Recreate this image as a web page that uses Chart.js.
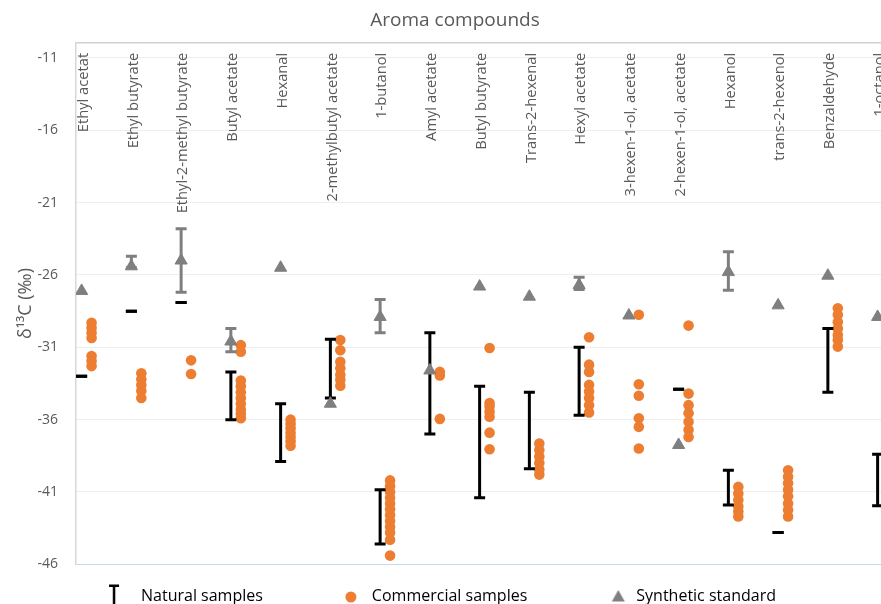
<!DOCTYPE html>
<html>
<head>
<meta charset="utf-8">
<script src="https://cdn.jsdelivr.net/npm/chart.js@4.4.1/dist/chart.umd.min.js"></script>
<style>
html,body{margin:0;padding:0;overflow:hidden;background:#fff;width:881px;height:604px}
#wrap{position:absolute;left:0;top:0;width:910px;height:614px}
</style>
</head>
<body>
<div id="wrap"><canvas id="c" width="910" height="614"></canvas></div>
<script>
// ---------- data ----------
const categories = ["Ethyl acetat","Ethyl butyrate","Ethyl-2-methyl butyrate","Butyl acetate","Hexanal",
  "2-methylbutyl acetate","1-butanol","Amyl acetate","Butyl butyrate","Trans-2-hexenal","Hexyl acetate",
  "3-hexen-1-ol, acetate","2-hexen-1-ol, acetate","Hexanol","trans-2-hexenol","Benzaldehyde","1-octanol"];
const yTicks = [-46,-41,-36,-31,-26,-21,-16,-11];

// Natural samples (range low / high)
const naturalLow  = [-33.0,-28.5,-27.9,-36.0,-38.9,-34.5,-44.6,-37.0,-41.4,-39.4,-35.7,null,-33.9,-41.9,-43.8,-34.1,-41.95];
const naturalHigh = [-33.0,-28.5,-27.9,-32.7,-34.9,-30.45,-40.85,-30.0,-33.7,-34.1,-31.0,null,-33.9,-39.5,-43.8,-29.7,-38.4];

// Synthetic standard (value and range)
const syntheticMean = [-27.1,-25.4,-25.0,-30.6,-25.5,-34.9,-28.9,-32.6,-26.8,-27.5,-26.7,-28.8,-37.75,-25.8,-28.1,-26.05,-28.9];
const syntheticLow  = [null,-25.5,-27.2,-31.3,null,null,-30.0,null,null,null,-27.0,null,null,-27.05,null,null,null];
const syntheticHigh = [null,-24.7,-22.8,-29.7,null,null,-27.7,null,null,null,-26.15,null,null,-24.4,null,null,null];

// Commercial samples
const commercial = [
  [-29.3,-29.65,-30.0,-30.35,-31.6,-31.95,-32.3],
  [-32.8,-33.2,-33.6,-34.0,-34.5],
  [-31.9,-32.85],
  [-30.85,-31.3,-33.3,-33.7,-34.1,-34.5,-34.9,-35.3,-35.6,-35.9],
  [-36.0,-36.3,-36.6,-36.9,-37.2,-37.5,-37.8],
  [-30.5,-31.2,-32.0,-32.45,-32.9,-33.25,-33.65],
  [-40.2,-40.6,-41.0,-41.4,-41.8,-42.2,-42.6,-43.0,-43.4,-43.8,-44.3,-45.4],
  [-32.7,-32.95,-35.95],
  [-31.05,-34.85,-35.1,-35.45,-35.8,-36.9,-38.05],
  [-37.65,-38.1,-38.55,-39.0,-39.45,-39.8],
  [-30.3,-32.2,-32.7,-33.6,-34.05,-34.5,-35.0,-35.5],
  [-28.75,-33.55,-34.35,-35.9,-36.5,-38.0],
  [-29.5,-34.2,-35.0,-35.55,-36.15,-36.7,-37.2],
  [-40.65,-41.1,-41.55,-42.0,-42.35,-42.7],
  [-39.5,-39.95,-40.4,-40.85,-41.3,-41.8,-42.25,-42.7],
  [-28.3,-28.75,-29.25,-29.7,-30.15,-30.5,-30.95],
  []
];

// ---------- build datasets ----------
const FONT = '"Open Sans", "DejaVu Sans", sans-serif';
const COMM_OFFSET = 0.2;

function rangeData(lo, hi, off) {
  const d = [];
  lo.forEach((v, i) => {
    if (v == null) return;
    d.push({x: i + 1 + off, y: v}, {x: i + 1 + off, y: hi[i]}, {x: i + 1 + off, y: null});
  });
  return d;
}
const synPoints = [];
syntheticMean.forEach((v, i) => { if (v != null) synPoints.push({x: i + 1, y: v}); });
const commPoints = [];
commercial.forEach((arr, i) => arr.forEach(v => commPoints.push({x: i + 1 + COMM_OFFSET, y: v})));

// legend icons
const LW = 91;
function icon(draw) {
  const c = document.createElement('canvas');
  c.width = LW; c.height = 30;
  draw(c.getContext('2d'));
  return c;
}
const iconNatural = icon(g => {
  const o = LW + 8 - 27;
  g.fillStyle = '#000';
  g.fillRect(o - 1.25, 4, 2.5, 26);
  g.fillRect(o - 5, 3.5, 10, 2.5);
});
const iconCommercial = icon(g => {
  const o = LW + 8 - 21;
  g.fillStyle = '#ed7d31';
  g.beginPath(); g.arc(o, 16, 5.5, 0, Math.PI * 2); g.fill();
});
const iconSynthetic = icon(g => {
  const o = LW + 8 - 18;
  g.fillStyle = '#7f7f7f';
  g.beginPath(); g.moveTo(o, 9); g.lineTo(o + 6.5, 20.5); g.lineTo(o - 6.5, 20.5); g.closePath(); g.fill();
});

// category labels plugin (texts inside the plot, rotated)
const catLabels = {
  id: 'catLabels',
  beforeDatasetsDraw(chart) {
    const {ctx, chartArea, scales} = chart;
    ctx.save();
    ctx.font = '14.7px ' + FONT;
    ctx.fillStyle = '#595959';
    ctx.textAlign = 'right';
    ctx.textBaseline = 'middle';
    categories.forEach((c, i) => {
      const px = scales.x.getPixelForValue(i + 1) + 2;
      ctx.save();
      ctx.translate(px, chartArea.top + 10);
      ctx.rotate(-Math.PI / 2);
      ctx.fillText(c, 0, 0);
      ctx.restore();
    });
    ctx.restore();
  }
};

// shift the legend row so it sits where the reference places it
const legendShift = {
  id: 'legendShift',
  afterLayout(chart) {
    const lg = chart.legend;
    if (lg) { lg.left -= 46; lg.right -= 46; }
  }
};

const X_MIN = 0.887, X_MAX = 17.48;

new Chart(document.getElementById('c'), {
  type: 'scatter',
  data: {
    datasets: [
      { label: 'Synthetic standard', data: synPoints, pointStyle: 'triangle', pointRadius: 7,
        backgroundColor: '#7f7f7f', borderColor: '#7f7f7f', borderWidth: 1, showLine: false },
      { label: 'Synthetic range', data: rangeData(syntheticLow, syntheticHigh, 0), showLine: true,
        borderColor: '#7f7f7f', borderWidth: 3, pointStyle: 'line', pointRadius: 5.5,
        pointBorderWidth: 3, pointBorderColor: '#7f7f7f', spanGaps: false },
      { label: 'Natural samples', data: rangeData(naturalLow, naturalHigh, 0), showLine: true,
        borderColor: '#000000', borderWidth: 3, pointStyle: 'line', pointRadius: 5.5,
        pointBorderWidth: 3, pointBorderColor: '#000000', spanGaps: false },
      { label: 'Commercial samples', data: commPoints, pointStyle: 'circle', pointRadius: 5.3,
        backgroundColor: '#ed7d31', borderColor: '#ed7d31', borderWidth: 0, showLine: false }
    ]
  },
  options: {
    responsive: false,
    animation: false,
    layout: { padding: 0 },
    plugins: {
      title: { display: true, text: 'Aroma compounds', color: '#595959',
        font: { family: FONT, size: 19, weight: 'normal', lineHeight: 1.2 },
        padding: { top: 9, bottom: 11 } },
      legend: {
        display: true, position: 'bottom',
        labels: {
          usePointStyle: true, pointStyleWidth: LW, padding: 10, color: '#262626',
          font: { family: FONT, size: 16 },
          generateLabels: () => [
            { text: 'Natural samples', pointStyle: iconNatural, datasetIndex: 2, hidden: false, lineWidth: 0, fillStyle: '#000', strokeStyle: '#000' },
            { text: 'Commercial samples', pointStyle: iconCommercial, datasetIndex: 3, hidden: false, lineWidth: 0, fillStyle: '#ed7d31', strokeStyle: '#ed7d31' },
            { text: 'Synthetic standard', pointStyle: iconSynthetic, datasetIndex: 0, hidden: false, lineWidth: 0, fillStyle: '#7f7f7f', strokeStyle: '#7f7f7f' }
          ]
        }
      },
      tooltip: { enabled: false }
    },
    scales: {
      x: {
        type: 'linear', position: 'bottom', min: X_MIN, max: X_MAX,
        grid: { display: false },
        ticks: { display: false },
        border: { display: true, color: '#c6d9f0', width: 1 },
        afterFit: s => { s.height = 13.7; }
      },
      xTop: {
        type: 'linear', position: 'top', min: X_MIN, max: X_MAX,
        grid: { display: false },
        ticks: { display: false },
        border: { display: true, color: '#d0d0d0', width: 1.5 },
        afterFit: s => { s.height = 0; }
      },
      y: {
        type: 'linear', min: -46, max: -9.95,
        afterBuildTicks: s => { s.ticks = yTicks.map(v => ({ value: v })); },
        ticks: { color: '#595959', font: { family: FONT, size: 14 }, padding: 18 },
        grid: { drawTicks: false, lineWidth: 1,
          color: c => (c.tick && c.tick.value === -46) ? '#c6d9f0' : '#eeeeee' },
        border: { display: true, color: '#d3d8de', width: 1.5 },
        title: { display: true, text: 'δ¹³C (‰)', color: '#595959',
          font: { family: FONT, size: 18, lineHeight: 1.2 }, padding: { top: 15, bottom: 0 } },
        afterFit: s => { s.width = 76; }
      }
    }
  },
  plugins: [catLabels, legendShift]
});
</script>
</body>
</html>
